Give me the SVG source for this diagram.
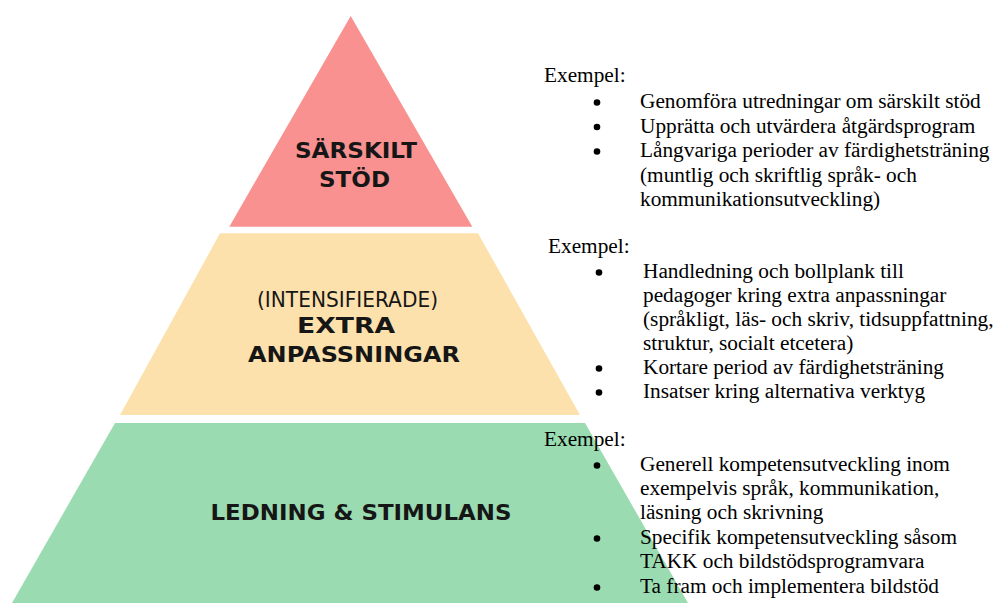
<svg xmlns="http://www.w3.org/2000/svg" width="1001" height="603" viewBox="0 0 1001 603">
  <style>
    .lbl { font-family: "DejaVu Sans", "Open Sans", sans-serif; font-weight: 700; font-size: 21px; fill: #161616; text-anchor: middle; }
    .lblr { font-family: "DejaVu Sans", "Open Sans", sans-serif; font-weight: 400; font-size: 21.5px; fill: #161616; text-anchor: middle; }
    .t { font-family: "Liberation Serif", "Times New Roman", serif; font-size: 21.3px; fill: #000; }
    .b { fill: #000; }
  </style>
  <rect width="1001" height="603" fill="#ffffff"/>
  <g id="level-top">
    <polygon points="350.7,16 472.3,226.7 229.3,226.7" fill="#F8918F"/>
    <text class="lbl" x="356" y="158.3" textLength="122" lengthAdjust="spacingAndGlyphs">SÄRSKILT</text>
    <text class="lbl" x="354.5" y="186.5" textLength="71" lengthAdjust="spacingAndGlyphs">STÖD</text>
  </g>
  <g id="level-middle">
    <polygon points="220,233.3 478,233.3 580,415 120,415" fill="#FCE1AD"/>
    <text class="lblr" x="347.5" y="307" textLength="181" lengthAdjust="spacingAndGlyphs">(INTENSIFIERADE)</text>
    <text class="lbl" x="346" y="333" textLength="98" lengthAdjust="spacingAndGlyphs">EXTRA</text>
    <text class="lbl" x="354" y="361.7" textLength="212" lengthAdjust="spacingAndGlyphs">ANPASSNINGAR</text>
  </g>
  <g id="level-bottom">
    <polygon points="115,423 585,423 688,603 12,603" fill="#9ADBB1"/>
    <text class="lbl" x="361" y="520" textLength="301" lengthAdjust="spacingAndGlyphs">LEDNING &amp; STIMULANS</text>
  </g>
  <g id="examples-top">
    <text class="t" x="544" y="82">Exempel:</text>
    <circle class="b" cx="597" cy="102.5" r="3.3"/>
    <circle class="b" cx="597" cy="127" r="3.3"/>
    <circle class="b" cx="597" cy="151.5" r="3.3"/>
    <text class="t" x="640" y="108">Genomföra utredningar om särskilt stöd</text>
    <text class="t" x="640" y="132.5">Upprätta och utvärdera åtgärdsprogram</text>
    <text class="t" x="640" y="157">Långvariga perioder av färdighetsträning</text>
    <text class="t" x="640" y="181.5">(muntlig och skriftlig språk- och</text>
    <text class="t" x="640" y="206">kommunikationsutveckling)</text>
  </g>
  <g id="examples-middle">
    <text class="t" x="548" y="253">Exempel:</text>
    <circle class="b" cx="599" cy="272.5" r="3.3"/>
    <circle class="b" cx="599" cy="368.5" r="3.3"/>
    <circle class="b" cx="599" cy="392.5" r="3.3"/>
    <text class="t" x="643" y="278">Handledning och bollplank till</text>
    <text class="t" x="643" y="302">pedagoger kring extra anpassningar</text>
    <text class="t" x="643" y="326">(språkligt, läs- och skriv, tidsuppfattning,</text>
    <text class="t" x="643" y="350">struktur, socialt etcetera)</text>
    <text class="t" x="643" y="374">Kortare period av färdighetsträning</text>
    <text class="t" x="643" y="398">Insatser kring alternativa verktyg</text>
  </g>
  <g id="examples-bottom">
    <text class="t" x="544" y="446">Exempel:</text>
    <circle class="b" cx="597" cy="465.5" r="3.3"/>
    <circle class="b" cx="597" cy="538.5" r="3.3"/>
    <circle class="b" cx="597" cy="587.5" r="3.3"/>
    <text class="t" x="640" y="471">Generell kompetensutveckling inom</text>
    <text class="t" x="640" y="495">exempelvis språk, kommunikation,</text>
    <text class="t" x="640" y="519">läsning och skrivning</text>
    <text class="t" x="640" y="544">Specifik kompetensutveckling såsom</text>
    <text class="t" x="640" y="568">TAKK och bildstödsprogramvara</text>
    <text class="t" x="640" y="593">Ta fram och implementera bildstöd</text>
  </g>
  <g id="connectors"></g>
</svg>
